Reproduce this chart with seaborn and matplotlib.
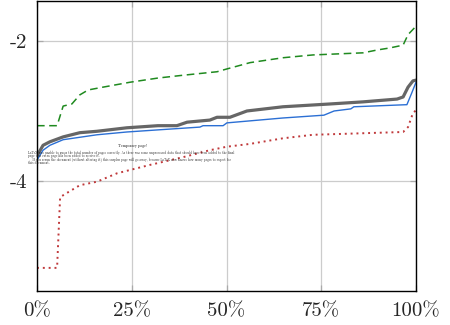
import matplotlib
matplotlib.use("Agg")
import matplotlib.pyplot as plt
import pandas as pd
import seaborn as sns

# percent positions and values
green_x = [0, 5.3, 6.9, 9.2, 11.3, 13.5, 17.4, 24.5, 31.9, 38.5, 47.5, 50.1, 56.2,
           64.9, 72.8, 86.0, 89.7, 93.1, 96.6, 97.9, 100]
green_y = [-3.21, -3.21, -2.93, -2.90, -2.77, -2.70, -2.66, -2.59, -2.53, -2.49, -2.44,
           -2.40, -2.31, -2.24, -2.20, -2.17, -2.13, -2.10, -2.06, -1.91, -1.79]

gray_x = [0, 1.6, 3.4, 6.9, 11.3, 15.8, 23.7, 31.9, 36.9, 39.6, 45.6, 47.5, 50.9,
          55.4, 64.9, 77.3, 86.0, 95.0, 96.6, 97.9, 99.2, 100]
gray_y = [-3.64, -3.49, -3.44, -3.37, -3.31, -3.29, -3.24, -3.21, -3.21, -3.16, -3.13,
          -3.09, -3.09, -3.00, -2.94, -2.90, -2.87, -2.83, -2.80, -2.66, -2.57, -2.56]

blue_x = [0, 1.6, 3.4, 6.9, 15.8, 23.7, 31.9, 43.0, 43.8, 49.1, 50.1, 64.9, 75.7,
          78.4, 82.8, 83.6, 97.6, 98.9, 100]
blue_y = [-3.70, -3.56, -3.49, -3.41, -3.34, -3.30, -3.27, -3.23, -3.21, -3.21, -3.17,
          -3.10, -3.06, -3.00, -2.97, -2.94, -2.91, -2.74, -2.59]

red_x = [0, 5.3, 6.1, 7.9, 11.3, 15.8, 21.1, 29.8, 38.5, 45.6, 50.1, 56.2, 64.9,
         72.8, 96.6, 97.9, 99.2, 100]
red_y = [-5.24, -5.24, -4.23, -4.17, -4.06, -4.01, -3.89, -3.77, -3.66, -3.56, -3.51,
         -3.47, -3.39, -3.34, -3.30, -3.23, -3.03, -2.99]

x_ticks = [0, 25, 50, 75, 100]
x_labels = ["0%", "25%", "50%", "75%", "100%"]
y_ticks = [-4, -2]
y_labels = ["-4", "-2"]

temp_title = "Temporary page!"
temp_lines = [
    "LaTeX was unable to guess the total number of pages correctly. As there was some unprocessed data that should have been added to the final",
    "page this extra page has been added to receive it.",
    "    If you rerun the document (without altering it) this surplus page will go away, because LaTeX now knows how many pages to expect for",
    "this document.",
]

sns.set_theme(style="white")
plt.rcParams["font.family"] = ["cmr10", "DejaVu Serif"]
plt.rcParams["axes.formatter.use_mathtext"] = True

fig = plt.figure(figsize=(4.5, 3.25), dpi=100)
ax = fig.add_axes([37 / 450, 1 - 291 / 325, 379 / 450, 290 / 325])

green = pd.DataFrame({"x": green_x, "y": green_y})
gray = pd.DataFrame({"x": gray_x, "y": gray_y})
blue = pd.DataFrame({"x": blue_x, "y": blue_y})
red = pd.DataFrame({"x": red_x, "y": red_y})

sns.lineplot(data=green, x="x", y="y", ax=ax, color="#1f8a1f", linewidth=1.1,
             linestyle=(0, (5, 3)), estimator=None, sort=False)
sns.lineplot(data=red, x="x", y="y", ax=ax, color="#c0393b", linewidth=1.4,
             linestyle=(0, (1, 2)), estimator=None, sort=False)
sns.lineplot(data=gray, x="x", y="y", ax=ax, color="#666666", linewidth=2.3,
             estimator=None, sort=False)
sns.lineplot(data=blue, x="x", y="y", ax=ax, color="#2b6fd4", linewidth=1.0,
             estimator=None, sort=False)

ax.set_xlim(0, 100)
ax.set_ylim(-5.57, -1.43)
ax.set_xticks(x_ticks)
ax.set_xticklabels(x_labels, fontsize=15)
ax.set_yticks(y_ticks)
ax.set_yticklabels(y_labels, fontsize=15)
ax.set_xlabel("")
ax.set_ylabel("")
ax.grid(True, color="#cccccc", linewidth=0.9)
ax.set_axisbelow(True)
ax.tick_params(direction="in", length=4, width=0.9, color="#aaaaaa",
               top=True, right=True, bottom=True, left=True)
ax.tick_params(axis="x", pad=8)
ax.tick_params(axis="y", pad=7)
for s in ax.spines.values():
    s.set_color("black")
    s.set_linewidth(1.0)

# leftover LaTeX overlay text
fig.text(133 / 450, 1 - 146 / 325, temp_title, fontsize=2.8, ha="center",
         va="center", color="#111111", fontweight="bold")
for i, line in enumerate(temp_lines):
    fig.text(28 / 450, 1 - (153 + i * 3.2) / 325, line, fontsize=2.3,
             ha="left", va="center", color="#222222")

fig.savefig("out.png", dpi=100)
